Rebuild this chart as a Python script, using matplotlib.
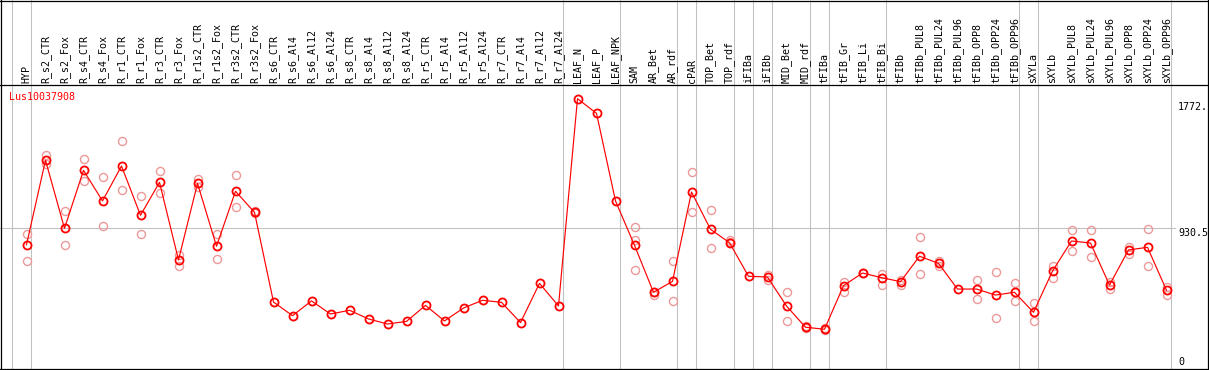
import matplotlib
matplotlib.use("Agg")
import matplotlib.pyplot as plt

gene = "Lus10037908"

samples = [
    "HYP", "R_s2_CTR", "R_s2_Fox", "R_s4_CTR", "R_s4_Fox", "R_r1_CTR", "R_r1_Fox",
    "R_r3_CTR", "R_r3_Fox", "R_r1s2_CTR", "R_r1s2_Fox", "R_r3s2_CTR", "R_r3s2_Fox",
    "R_s6_CTR", "R_s6_Al4", "R_s6_Al12", "R_s6_Al24", "R_s8_CTR", "R_s8_Al4",
    "R_s8_Al12", "R_s8_Al24", "R_r5_CTR", "R_r5_Al4", "R_r5_Al12", "R_r5_Al24",
    "R_r7_CTR", "R_r7_Al4", "R_r7_Al12", "R_r7_Al24", "LEAF_N", "LEAF_P", "LEAF_NPK",
    "SAM", "AR_Bet", "AR_rdf", "cPAR", "TOP_Bet", "TOP_rdf", "iFIBa", "iFIBb",
    "MID_Bet", "MID_rdf", "tFIBa", "tFIB_Gr", "tFIB_Li", "tFIB_Bi", "tFIBb",
    "tFIBb_PUL8", "tFIBb_PUL24", "tFIBb_PUL96", "tFIBb_OPP8", "tFIBb_OPP24",
    "tFIBb_OPP96", "sXYLa", "sXYLb", "sXYLb_PUL8", "sXYLb_PUL24", "sXYLb_PUL96",
    "sXYLb_OPP8", "sXYLb_OPP24", "sXYLb_OPP96",
]

means = [
    824, 1372, 930, 1307, 1108, 1335, 1015, 1229, 725, 1222, 814, 1171, 1034,
    452, 363, 459, 374, 398, 342, 309, 326, 430, 329, 413, 463, 450, 318, 573, 426,
    1772, 1677, 1108,
    820, 515, 586, 1166, 924, 837, 619, 614, 426, 288,
    275, 558, 640, 610, 584, 749, 703, 536, 536, 497, 515,
    385, 653, 848, 835, 562, 790, 807, 528,
]

# replicate values (empty where none are shown)
reps = [
    [891, 718], [1406, 1348], [1041, 820], [1378, 1240], [1262, 943], [1495, 1177],
    [1138, 891], [1300, 1158], [757, 688], [1248, 1197], [894, 729], [1274, 1067],
    [1043, 1028],
    [], [], [], [], [], [], [], [], [], [], [], [], [], [], [], [],
    [], [], [],
    [937, 855, 660], [520, 497], [718, 456], [1294, 1034], [1047, 803], [855, 844],
    [], [625, 597], [517, 326], [298, 282],
    [281, 270], [584, 515], [643, 637], [634, 565], [595, 562], [872, 632],
    [718, 684], [], [593, 469], [647, 348], [573, 456],
    [443, 326], [686, 610], [917, 783], [917, 746], [580, 539], [807, 766],
    [924, 684], [549, 500],
]

# first column of each sample group, plus the end
group_starts = [0, 1, 29, 32, 35, 36, 38, 39, 40, 42, 43, 46, 53, 54, 61]

axis_labels = ["1772.", "930.5", "0"]
mid_value = 930.5

W, H = 1209, 370
STEP = 19.0
X0 = 26.5


def val_at(py):
    # value shown at pixel row py of the figure
    return (371.6 - py) * 6.493


fig = plt.figure(figsize=(W / 100, H / 100), dpi=100)
ax = fig.add_axes([0, 0, 1, 1])
ax.set_xlim(-X0 / STEP, (W - X0) / STEP)
ax.set_ylim(val_at(H), val_at(0))
ax.axis("off")

grey = "#c0c0c0"
px = 0.75

# group separators
for g in group_starts:
    ax.axvline(g - 15 / STEP, color=grey, lw=px, zorder=1)

# mid line
ax.plot([-X0 / STEP, (1175 - X0) / STEP], [mid_value, mid_value], color=grey, lw=px, zorder=1)

# frame
for py in [0.5, 85, 369]:
    ax.axhline(val_at(py), color="black", lw=0.9, zorder=2)
for pxx in [1, 1207.5]:
    ax.axvline((pxx - X0) / STEP, color="black", lw=0.9, zorder=2)

xs = list(range(len(samples)))

for i, r in enumerate(reps):
    if r:
        ax.plot([i] * len(r), r, "o", ms=5.8, mfc="none", mec="#ee9999", mew=1.0, zorder=3)

ax.plot(xs, means, "-", color="red", lw=0.85, zorder=4)
ax.plot(xs, means, "o", ms=5.8, mfc="none", mec="red", mew=1.3, zorder=5)

mono = "DejaVu Sans Mono"
for i, name in enumerate(samples):
    ax.text(i, val_at(83), name, rotation=90, ha="center", va="bottom",
            fontfamily=mono, fontsize=7.2, color="black")

ax.text((9.5 - X0) / STEP, val_at(97.5), gene, ha="left", va="center",
        fontfamily=mono, fontsize=7.2, color="red")

for lab, py in zip(axis_labels, [107.5, 232.5, 362]):
    fig.text(1178 / W, 1 - py / H, lab, ha="left", va="center",
             fontfamily=mono, fontsize=7.2, color="black")

fig.savefig("out.png", dpi=100)
